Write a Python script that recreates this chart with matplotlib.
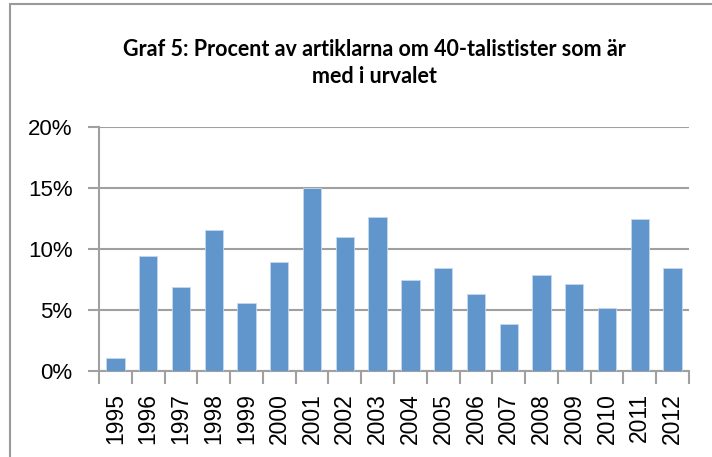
import matplotlib.pyplot as plt
from matplotlib.ticker import FuncFormatter
from matplotlib.patches import Rectangle

# data
years = ['1995', '1996', '1997', '1998', '1999', '2000', '2001', '2002', '2003',
         '2004', '2005', '2006', '2007', '2008', '2009', '2010', '2011', '2012']
percent = [1.05, 9.45, 6.9, 11.55, 5.6, 8.9, 15.0, 10.95, 12.65,
           7.5, 8.45, 6.35, 3.85, 7.9, 7.15, 5.2, 12.45, 8.45]

grid_grey = '#a0a0a0'
bar_blue = '#6096cb'

fig = plt.figure(figsize=(7.12, 4.57), dpi=100)
ax = fig.add_axes([99 / 712, 1 - 371 / 457, 590 / 712, 244 / 457])

x = range(len(years))
ax.bar(x, percent, width=0.56, color=bar_blue, edgecolor='#c5d8ee', linewidth=0.6, zorder=3)

ax.set_xlim(-0.5, len(years) - 0.5)
ax.set_ylim(0, 20)
ax.set_yticks([0, 5, 10, 15, 20])
ax.yaxis.set_major_formatter(FuncFormatter(lambda v, p: f'{v:.0f}%'))
ax.yaxis.grid(True, color=grid_grey, linewidth=1.5, zorder=0)

ax.set_xticks(list(x))
ax.set_xticklabels(years, rotation=90, fontsize=16.5, family='Liberation Sans')
ax.set_xticks([i - 0.5 for i in range(len(years) + 1)], minor=True)
ax.tick_params(axis='x', which='major', length=0, pad=16)
ax.tick_params(axis='x', which='minor', length=9, width=1.5, color=grid_grey)
ax.tick_params(axis='y', length=8, width=1.5, color=grid_grey, pad=11)
for lab in ax.get_yticklabels():
    lab.set_fontsize(16)
    lab.set_family('Liberation Sans')

for s in ['top', 'right']:
    ax.spines[s].set_visible(False)
for s in ['left', 'bottom']:
    ax.spines[s].set_color(grid_grey)
    ax.spines[s].set_linewidth(1.5)

fig.text(374 / 712, 1 - 63 / 457, 'Graf 5: Procent av artiklarna om 40-talistister som är\nmed i urvalet',
         ha='center', va='center', fontsize=15.5, fontweight='bold', family='Lato',
         linespacing=1.3)

# outer chart border
fig.patches.append(Rectangle((10 / 712, -0.1), 1.1, 1 - 4 / 457 + 0.1, transform=fig.transFigure,
                             fill=False, edgecolor='#9a9a9a', linewidth=1.5))

fig.savefig('out.png', dpi=100)
